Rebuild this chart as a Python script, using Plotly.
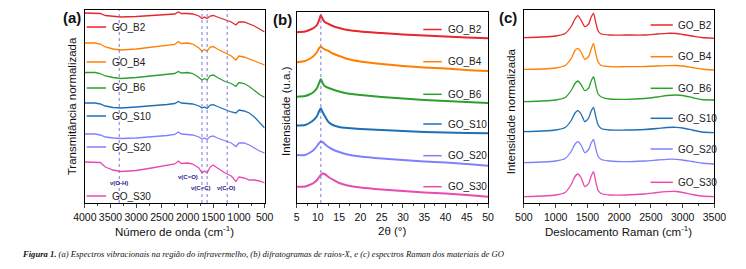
import plotly.graph_objects as go

# the page body keeps an 8px margin: the figure is sized so that it fits the 746x269 view exactly
OFF = 8
W, H = 746 - 2 * OFF, 269 - 2 * OFF

NAMES = ["GO_B2", "GO_B4", "GO_B6", "GO_S10", "GO_S20", "GO_S30"]
COLORS = ["#E8262E", "#FF8000", "#2CA02C", "#1F6FB4", "#8080FF", "#E84AB0"]

# ---------- (a) FTIR ----------
FTIR_X = [4000, 3800, 3700, 3600, 3450, 3300, 3000, 2700, 2400, 2250, 2180, 2120, 2000, 1900,
          1780, 1720, 1670, 1620, 1560, 1500, 1420, 1270, 1150, 1060, 1000, 900, 800, 700, 600, 500]
FTIR_B2 = [190, 190, 189.5, 187.5, 186.5, 186, 186.5, 187.5, 188.5, 189, 191, 189.5, 189.5, 189, 187,
           184.5, 186, 184.5, 187, 187.5, 186, 183, 181, 178, 181, 181, 179, 177, 174, 171]
FTIR_B4 = [160, 160, 159, 156, 154, 153, 154, 155.5, 157.5, 158.5, 161.5, 159.5, 160, 159, 155,
           152, 153.5, 152, 156, 156.5, 154, 150, 147, 143, 147, 146, 144, 142, 140, 138]
FTIR_B6 = [130.5, 130.5, 129.5, 127, 125.5, 124.5, 125.5, 127, 128.5, 129.5, 131.5, 130, 130.5, 129.5,
           125.5, 123, 124.5, 123, 127.5, 128, 125.5, 121.5, 119.5, 116.5, 120.5, 119.5, 116.5, 112.5, 108.5, 105.5]
FTIR_S10 = [100, 100, 99, 97, 95.5, 95, 96, 97, 98.5, 99.5, 101.5, 100, 99.5, 99, 97,
            95, 96, 94.5, 98, 98.3, 96.5, 93, 91, 90, 93, 92, 90, 86, 80, 75]
FTIR_S20 = [69, 69, 68, 66, 65, 64.5, 65, 66, 67.5, 68.5, 71, 69, 68.5, 68, 66,
            64, 65, 63.5, 66.5, 67, 65, 62, 60, 56.5, 60, 60, 58, 55, 52, 50]
FTIR_S30 = [41, 41, 40.5, 36, 33, 31.5, 32.5, 35, 37.5, 39, 42, 39.5, 40, 39, 35,
            30, 32, 30, 36, 38, 35, 30, 27, 21.5, 26, 25, 23, 23, 22, 20]
FTIR_BANDS = [3330, 1720, 1620, 1230]
BAND_LABELS = ["ν(O-H)", "ν(C=O)", "ν(C=C)", "ν(C-O)"]

# ---------- (b) XRD ----------
XRD_X = [5, 7, 8, 9, 9.8, 10.3, 10.7, 11.1, 11.6, 12.5, 13.5, 15, 17, 20, 25, 30, 35, 40, 45, 50]
XRD_B2 = [170.7, 171.5, 173, 175, 178, 183, 188, 184, 181, 179, 177, 175, 173, 171.5, 170, 168.5, 167.5, 166.5, 165.5, 164.7]
XRD_B4 = [140.7, 142, 144, 147, 151, 155, 156.3, 155, 153.7, 152, 149.5, 147, 144, 141.5, 139, 137, 135.5, 134.5, 133, 132]
XRD_B6 = [106.3, 107, 108.5, 111, 115, 120, 124, 120, 117, 115, 113.5, 111.5, 109.5, 108, 106, 104.5, 103, 102, 101, 100]
XRD_S10 = [77.5, 78, 80, 83, 87, 92, 94.7, 91, 87, 81, 78, 76, 75, 74, 73, 72, 71, 70.5, 70, 69.7]
XRD_S20 = [48, 48, 50, 53, 57, 60, 61.3, 61, 59, 56, 53.5, 51, 48.5, 46.5, 44.5, 43, 41.5, 40.5, 39, 37.3]
XRD_S30 = [16.3, 16.5, 18, 20, 23, 26, 28, 29.5, 29, 26, 23.5, 20, 17.5, 15.5, 13.5, 12, 10.5, 9.5, 8, 6.3]
XRD_PEAK = [10.7]

# ---------- (c) Raman ----------
RAMAN_X = [500, 800, 1000, 1150, 1250, 1300, 1350, 1400, 1460, 1520, 1560, 1597, 1630, 1670, 1720,
           1850, 2100, 2400, 2600, 2750, 2900, 3000, 3150, 3300, 3500]
RAMAN_B2 = [165.3, 166, 167, 169.5, 177, 183.5, 187.3, 183, 176.3, 179, 186, 189.7, 181, 172, 169,
            168, 168, 168, 169, 169.7, 169.5, 168.5, 167, 165.5, 164.7]
RAMAN_B4 = [133.7, 134, 135, 137.5, 145, 152, 154.7, 151, 143.7, 146.5, 154, 159.7, 150, 141, 137.5,
            136.3, 136.3, 136.5, 137, 137.3, 137.5, 137, 135.5, 134, 133]
RAMAN_B6 = [101.3, 102, 103, 105.5, 113, 119, 122, 118.5, 112.3, 115, 122, 126.3, 118, 109, 106,
            104, 103.7, 104.5, 106, 107.5, 108, 107.5, 105.5, 103.5, 103]
RAMAN_S10 = [71.3, 72, 73, 75.5, 83, 89.5, 92.3, 89, 81.3, 85, 92, 95.7, 87, 78, 74.5,
             73, 73, 73.5, 74.5, 75.5, 75.7, 75, 73, 71, 70.3]
RAMAN_S20 = [40.3, 41, 42, 44.5, 52, 58.5, 61.3, 58, 50.3, 53.5, 60, 63.7, 55, 46.5, 43.5,
             42, 41.3, 42, 43, 43.7, 43.7, 43, 41.5, 40, 39]
RAMAN_S30 = [6.3, 7, 8, 10.5, 19, 26, 29, 25.5, 16.3, 19.5, 27, 31.3, 22, 12.5, 9.5,
             8, 8, 9, 10.5, 11.3, 11.5, 10.5, 8.5, 7, 6.3]

FTIR = [FTIR_B2, FTIR_B4, FTIR_B6, FTIR_S10, FTIR_S20, FTIR_S30]
XRD = [XRD_B2, XRD_B4, XRD_B6, XRD_S10, XRD_S20, XRD_S30]
RAMAN = [RAMAN_B2, RAMAN_B4, RAMAN_B6, RAMAN_S10, RAMAN_S20, RAMAN_S30]

FONT = "Liberation Sans, Arial, sans-serif"


def px(x):
    return (x - OFF) / W


def py(y):
    return 1 - (y - OFF) / H


fig = go.Figure()

for i in range(6):
    fig.add_trace(go.Scatter(x=FTIR_X, y=FTIR[i], mode="lines", xaxis="x", yaxis="y",
                             line=dict(color=COLORS[i], width=1.3), showlegend=False))
    fig.add_trace(go.Scatter(x=XRD_X, y=XRD[i], mode="lines", xaxis="x2", yaxis="y2",
                             line=dict(color=COLORS[i], width=2, shape="spline", smoothing=0.6),
                             showlegend=False))
    fig.add_trace(go.Scatter(x=RAMAN_X, y=RAMAN[i], mode="lines", xaxis="x3", yaxis="y3",
                             line=dict(color=COLORS[i], width=1.3, shape="spline", smoothing=0.6),
                             showlegend=False))

axis_common = dict(showline=True, mirror=True, linecolor="black", linewidth=1,
                   showgrid=False, zeroline=False)
xfont = dict(family=FONT, size=10.5, color="#111")

fig.update_layout(
    width=W, height=H, margin=dict(l=0, r=0, t=0, b=0),
    paper_bgcolor="white", plot_bgcolor="white", showlegend=False,
    xaxis=dict(domain=[px(75), px(261)], range=[4000, 500], tickvals=[4000, 3500, 3000, 2500, 2000, 1500, 1000, 500],
               ticks="outside", ticklen=4, tickfont=xfont,
               minor=dict(ticks="outside", ticklen=2, dtick=250, tick0=500), anchor="y", **axis_common),
    yaxis=dict(domain=[py(203), py(10)], range=[0, 193], showticklabels=False, ticks="", anchor="x", **axis_common),
    xaxis2=dict(domain=[px(294), px(492)], range=[5, 50], dtick=5, tick0=5,
                ticks="outside", ticklen=4, tickfont=xfont,
                minor=dict(ticks="outside", ticklen=2, dtick=2.5, tick0=5), anchor="y2", **axis_common),
    yaxis2=dict(domain=[py(203), py(12)], range=[0, 191], showticklabels=False, ticks="", anchor="x2", **axis_common),
    xaxis3=dict(domain=[px(529), px(726)], range=[500, 3500], dtick=500, tick0=500,
                ticks="outside", ticklen=4, tickfont=xfont,
                minor=dict(ticks="outside", ticklen=2, dtick=250, tick0=500), anchor="y3", **axis_common),
    yaxis3=dict(domain=[py(203), py(10)], range=[0, 193], showticklabels=False, ticks="", anchor="x3", **axis_common),
)

shapes = []
annots = []

# reference dotted lines
for b in FTIR_BANDS:
    shapes.append(dict(type="line", xref="x", yref="y domain", x0=b, x1=b, y0=0, y1=1,
                       line=dict(color="#6A6AE0", width=0.9, dash="dot")))
for p in XRD_PEAK:
    shapes.append(dict(type="line", xref="x2", yref="y2 domain", x0=p, x1=p, y0=0, y1=1,
                       line=dict(color="#6A6AE0", width=0.9, dash="dot")))

# band labels in (a)
band_pos = [(110, 183), (182, 177), (195, 188), (221, 188)]
for (bx, by), t in zip(band_pos, BAND_LABELS):
    annots.append(dict(x=px(bx), y=py(by), xref="paper", yref="paper", text="<b>" + t + "</b>",
                       showarrow=False, font=dict(family=FONT, size=6, color="#1a1a8c"),
                       xanchor="center", yanchor="middle"))

# in-plot legends
leg_a = [27, 62, 88, 116, 147, 196]
leg_b = [29.5, 61.7, 94.3, 124, 155.7, 186.7]
leg_c = [25, 56.7, 88.3, 118.3, 149, 182.3]
for (x0, x1, xt, ys) in [(77, 97, 101, leg_a), (425, 444, 448, leg_b), (660, 683, 686, leg_c)]:
    for i, yy in enumerate(ys):
        shapes.append(dict(type="line", xref="paper", yref="paper", x0=px(x0), x1=px(x1),
                           y0=py(yy), y1=py(yy), line=dict(color=COLORS[i], width=1.5)))
        annots.append(dict(x=px(xt), y=py(yy), xref="paper", yref="paper", text=NAMES[i],
                           showarrow=False, font=dict(family=FONT, size=10, color="#222"),
                           xanchor="left", yanchor="middle"))

# axis titles
for xc, t in [(168, "Número de onda (cm<sup>-1</sup>)"), (393, "2θ (°)"),
              (627, "Deslocamento Raman (cm<sup>-1</sup>)")]:
    annots.append(dict(x=px(xc), y=py(231), xref="paper", yref="paper", text=t, showarrow=False,
                       font=dict(family=FONT, size=11.5, color="#111"), xanchor="center", yanchor="middle"))
for xc, yc, t in [(62, 106, "Transmitância normalizada"), (283, 111, "Intensidade (u.a.)"),
                  (516, 111, "Intensidade normalizada")]:
    annots.append(dict(x=px(xc), y=py(yc), xref="paper", yref="paper", text=t, showarrow=False,
                       textangle=-90, font=dict(family=FONT, size=11.5, color="#111"),
                       xanchor="center", yanchor="middle"))

# panel labels
for xc, yc, t in [(62, 18, "(a)"), (279, 20, "(b)"), (513, 18, "(c)")]:
    annots.append(dict(x=px(xc), y=py(yc), xref="paper", yref="paper", text="<b>" + t + "</b>",
                       showarrow=False, font=dict(family=FONT, size=15, color="#111"),
                       xanchor="center", yanchor="middle"))

# caption
annots.append(dict(x=0, y=py(254), xref="paper", yref="paper",
                   text="<b><i>Figura 1.</i></b><i> (a) Espectros vibracionais na região do infravermelho, "
                        "(b) difratogramas de raios-X, e (c) espectros Raman dos materiais de GO</i>",
                   showarrow=False, font=dict(family="Liberation Serif, Times New Roman, serif", size=8.6, color="#111"),
                   xanchor="left", yanchor="middle"))

fig.update_layout(shapes=shapes, annotations=annots)
fig.write_html("out.html")
